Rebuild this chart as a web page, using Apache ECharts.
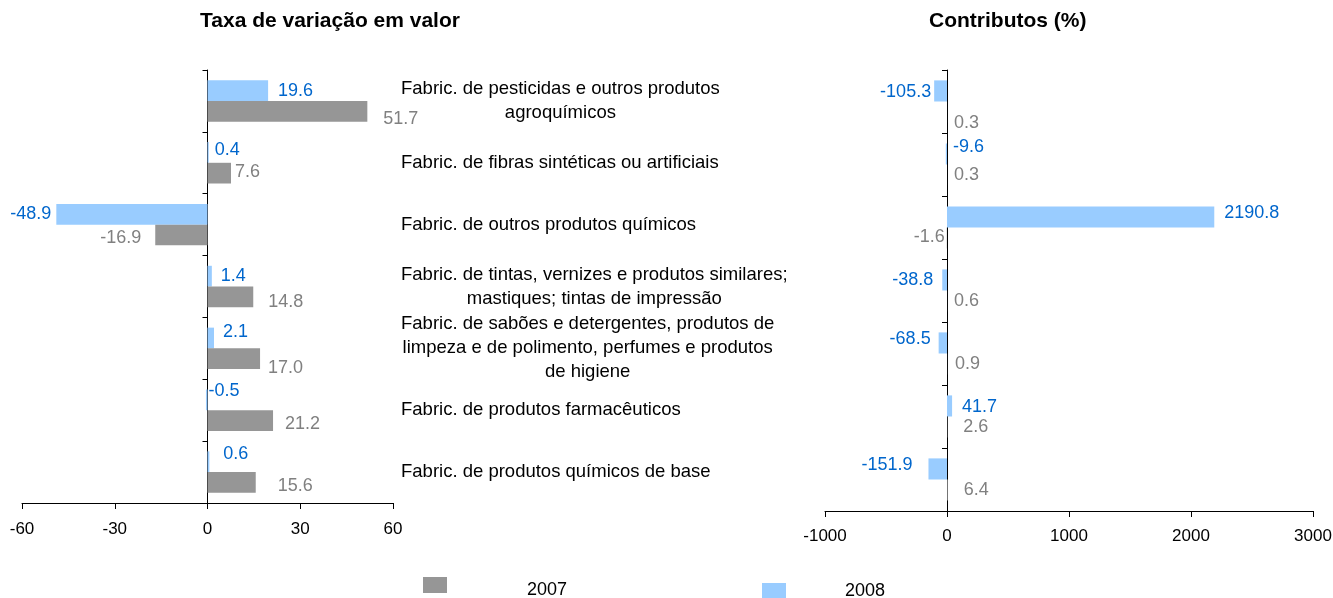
<!DOCTYPE html>
<html>
<head>
<meta charset="utf-8">
<title>Taxa de variação em valor / Contributos (%)</title>
<script src="https://cdn.jsdelivr.net/npm/echarts@6/dist/echarts.min.js"></script>
<style>
html, body { margin: 0; padding: 0; background: #fff; }
#chart { width: 1333px; height: 598px; }
</style>
</head>
<body>
<div id="chart"></div>
<script>
var categories = [
    'Fabric. de pesticidas e outros produtos\nagroquímicos',
    'Fabric. de fibras sintéticas ou artificiais',
    'Fabric. de outros produtos químicos',
    'Fabric. de tintas, vernizes e produtos similares;\nmastiques; tintas de impressão',
    'Fabric. de sabões e detergentes, produtos de\nlimpeza e de polimento, perfumes e produtos\nde higiene',
    'Fabric. de produtos farmacêuticos',
    'Fabric. de produtos químicos de base'
];
var taxa2007 = [51.7, 7.6, -16.9, 14.8, 17.0, 21.2, 15.6];
var taxa2008 = [19.6, 0.4, -48.9, 1.4, 2.1, -0.5, 0.6];
var contrib2007 = [0.3, 0.3, -1.6, 0.6, 0.9, 2.6, 6.4];
var contrib2008 = [-105.3, -9.6, 2190.8, -38.8, -68.5, 41.7, -151.9];
var taxaAxis = [-60, 60, 30];        // min, max, interval
var contribAxis = [-1000, 3000, 1000];

// label placement: [distance from bar end (negative = left side), vertical shift]
var taxa2007Lab = [[16, 8], [4, -1], [-14, 3], [15, 5], [8, 9], [12, 3], [22, 4]];
var taxa2008Lab = [[10, 0], [6, -2], [-5, 0], [9, 0], [9, -6], [1, -9], [14, -8]];
var contrib2007Lab = [[7, 11], [7, 0], [-2, -1], [7, 0], [8, 0], [16, 0], [16, 0]];
var contrib2008Lab = [[-3, 1], [6, -7], [10, -4], [-9, 0], [-8, -4], [10, 1], [-16, -4]];

var FONT = '"Liberation Sans", Arial, sans-serif';
var GRAY = '#969696', BLUE = '#99CCFF';

var ctx = document.createElement('canvas').getContext('2d');
ctx.font = '18.5px "Liberation Sans"';
function blockWidth(s) {
    return Math.max.apply(null, s.split('\n').map(function (l) { return ctx.measureText(l).width; }));
}

function placed(values, lab) {
    return values.map(function (v, i) {
        return {
            value: v,
            label: {
                position: lab[i][0] < 0 ? 'left' : 'right',
                distance: Math.abs(lab[i][0]),
                offset: [0, lab[i][1]]
            }
        };
    });
}

function barSeries(name, values, lab, xi, yi, color, labColor) {
    return {
        name: name,
        type: 'bar',
        xAxisIndex: xi,
        yAxisIndex: yi,
        barGap: 0,
        barCategoryGap: '33%',
        itemStyle: { color: color },
        label: {
            show: true,
            color: labColor,
            fontSize: 18,
            fontFamily: FONT,
            formatter: function (p) { return p.value.toFixed(1); }
        },
        data: placed(values, lab)
    };
}

function valueAxis(gi, ax, margin) {
    return {
        type: 'value',
        gridIndex: gi,
        min: ax[0], max: ax[1], interval: ax[2],
        axisLine: { show: true, lineStyle: { color: '#000' } },
        axisTick: { show: true, length: 6, lineStyle: { color: '#000' } },
        splitLine: { show: false },
        axisLabel: { color: '#000', fontSize: 17, fontFamily: FONT, margin: margin,
                     formatter: function (v) { return String(v); } }
    };
}

function catAxis(gi) {
    return {
        type: 'category',
        gridIndex: gi,
        inverse: true,
        data: categories,
        axisLine: { show: true, onZero: true, lineStyle: { color: '#000' } },
        axisTick: { show: true, length: 5, lineStyle: { color: '#000' } },
        axisLabel: { show: false }
    };
}

var chart = echarts.init(document.getElementById('chart'));

var option = {
    animation: false,
    backgroundColor: '#fff',
    title: [
        { text: 'Taxa de variação em valor', left: 200, top: 11, padding: 0,
          textStyle: { fontSize: 21, fontWeight: 'bold', color: '#000', fontFamily: FONT } },
        { text: 'Contributos (%)', left: 929, top: 11, padding: 0,
          textStyle: { fontSize: 21, fontWeight: 'bold', color: '#000', fontFamily: FONT } }
    ],
    legend: [
        // swatch sits in the top of a taller item so the text lines up with 2008
        { data: ['2007'], left: 423, top: 577, padding: 0,
          icon: 'path://M0,0H24V16H0Z M0,26H0.01V26.01H0Z', itemWidth: 24, itemHeight: 26,
          textStyle: { fontSize: 18, color: '#000', fontFamily: FONT, padding: [0, 0, 0, 75] } },
        { data: ['2008'], left: 762, top: 582, padding: 0, icon: 'rect', itemWidth: 24, itemHeight: 16,
          textStyle: { fontSize: 18, color: '#000', fontFamily: FONT, padding: [0, 0, 0, 54] } }
    ],
    grid: [
        { left: 22, top: 70, width: 371, height: 433, outerBoundsMode: 'none' },
        { left: 825, top: 70, width: 488, height: 441, outerBoundsMode: 'none' }
    ],
    xAxis: [valueAxis(0, taxaAxis, 18), valueAxis(1, contribAxis, 17)],
    yAxis: [
        catAxis(0),
        {
            type: 'category',
            gridIndex: 0,
            inverse: true,
            position: 'right',
            data: categories.map(function (c) {
                return { value: c, textStyle: { align: 'center', padding: [0, 0, 0, blockWidth(c)] } };
            }),
            axisLine: { show: false, onZero: false },
            axisTick: { show: false },
            axisLabel: { interval: 0, margin: 8, align: 'center', color: '#000',
                         fontSize: 18.5, lineHeight: 24, fontFamily: FONT }
        },
        catAxis(1)
    ],
    series: [
        barSeries('2008', taxa2008, taxa2008Lab, 0, 0, BLUE, '#0066CC'),
        barSeries('2007', taxa2007, taxa2007Lab, 0, 0, GRAY, '#808080'),
        barSeries('2008', contrib2008, contrib2008Lab, 1, 2, BLUE, '#0066CC'),
        barSeries('2007', contrib2007, contrib2007Lab, 1, 2, GRAY, '#808080')
    ]
};

chart.setOption(option);
</script>
</body>
</html>
